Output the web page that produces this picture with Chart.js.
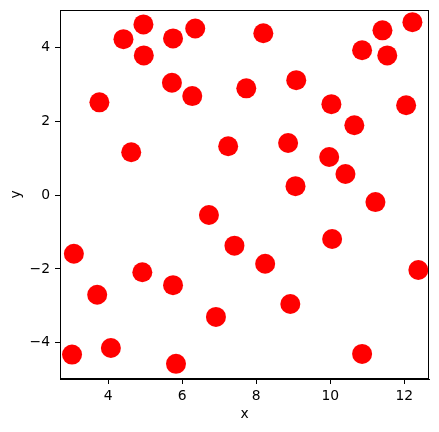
<!DOCTYPE html>
<html>
<head>
<meta charset="utf-8">
<script src="https://cdn.jsdelivr.net/npm/chart.js@4"></script>
<style>
  html, body { margin: 0; padding: 0; background: #fff; }
  canvas { display: block; }
</style>
</head>
<body>
<canvas id="c" width="439" height="432"></canvas>
<script>
const xValues = [4.41, 4.95, 4.96, 5.75, 6.35, 5.72, 6.27, 3.76, 4.62,
  8.19, 11.41, 12.22, 10.86, 11.54, 9.08, 7.73, 10.03, 12.05, 10.65, 7.24, 8.86, 9.97, 10.41, 9.06, 11.22,
  6.72, 3.07, 4.92, 5.75, 3.70, 6.91, 4.07, 3.02, 5.83,
  10.05, 7.41, 8.24, 12.38, 8.92, 10.86];
const yValues = [4.22, 4.62, 3.78, 4.24, 4.51, 3.04, 2.68, 2.51, 1.16,
  4.38, 4.46, 4.68, 3.92, 3.78, 3.11, 2.89, 2.46, 2.43, 1.89, 1.32, 1.41, 1.03, 0.57, 0.24, -0.19,
  -0.54, -1.59, -2.09, -2.44, -2.70, -3.30, -4.14, -4.32, -4.57,
  -1.19, -1.37, -1.86, -2.03, -2.95, -4.30];
const xTicks = [4, 6, 8, 10, 12];
const yTicks = [-4, -2, 0, 2, 4];
const xRange = [2.695, 12.668];
const yRange = [-4.98, 5.01];

const points = xValues.map((x, i) => ({ x: x, y: yValues[i] }));
const fontSpec = { family: 'DejaVu Sans', size: 13.9 };
const fmt = v => (v < 0 ? '\u2212' + Math.abs(v) : String(v));

const frame = {
  id: 'frame',
  afterDraw(chart) {
    const a = chart.chartArea, ctx = chart.ctx;
    ctx.save();
    ctx.strokeStyle = '#000';
    ctx.lineWidth = 1;
    ctx.strokeRect(Math.round(a.left) + 0.5, Math.round(a.top) + 0.5,
                   Math.round(a.right - a.left) - 1, Math.round(a.bottom - a.top) - 1);
    ctx.restore();
  }
};

new Chart(document.getElementById('c'), {
  type: 'scatter',
  data: {
    datasets: [{
      data: points,
      backgroundColor: '#ff0000',
      borderColor: '#ff0000',
      borderWidth: 0,
      pointRadius: 10,
      pointHoverRadius: 10
    }]
  },
  options: {
    responsive: false,
    animation: false,
    events: [],
    layout: { padding: { top: 9, right: 10, left: 0, bottom: 0 } },
    plugins: { legend: { display: false }, tooltip: { enabled: false } },
    scales: {
      x: {
        type: 'linear',
        min: xRange[0], max: xRange[1],
        afterBuildTicks: s => { s.ticks = xTicks.map(v => ({ value: v })); },
        afterFit: s => { s.height = 53; s.paddingLeft = 0; s.paddingRight = 0; },
        grid: { drawOnChartArea: false, drawTicks: true, tickLength: 5, color: '#000', tickWidth: 1 },
        border: { display: true, color: '#000', width: 1 },
        ticks: { color: '#000', font: fontSpec, padding: 4, maxRotation: 0, callback: v => fmt(v) },
        title: { display: true, text: 'x', color: '#000', font: fontSpec, padding: { top: 0, bottom: 9 } }
      },
      y: {
        type: 'linear',
        min: yRange[0], max: yRange[1],
        afterBuildTicks: s => { s.ticks = yTicks.map(v => ({ value: v })); },
        afterFit: s => { s.width = 60; s.paddingTop = 0; s.paddingBottom = 0; },
        grid: { drawOnChartArea: false, drawTicks: true, tickLength: 5, color: '#000', tickWidth: 1 },
        border: { display: true, color: '#000', width: 1 },
        ticks: { color: '#000', font: fontSpec, padding: 5, callback: v => fmt(v) },
        title: { display: true, text: 'y', color: '#000', font: fontSpec, padding: { top: 8, bottom: 0 } }
      }
    }
  },
  plugins: [frame]
});
</script>
</body>
</html>
